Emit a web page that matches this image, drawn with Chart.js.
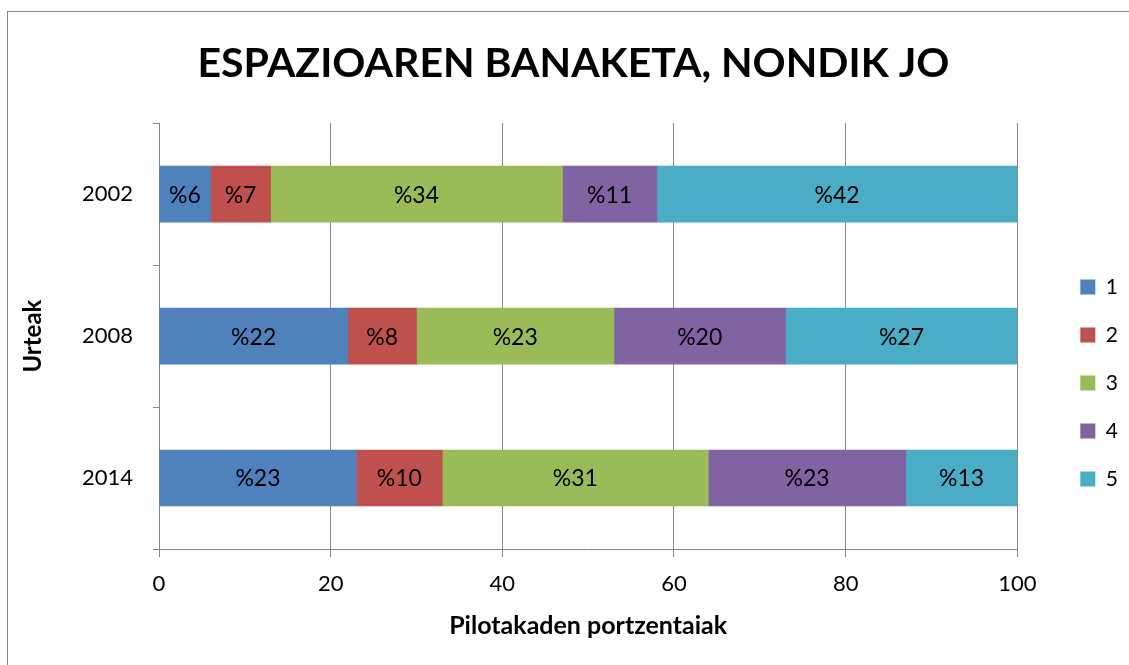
<!DOCTYPE html>
<html>
<head>
<meta charset="utf-8">
<script src="https://cdn.jsdelivr.net/npm/chart.js@4/dist/chart.umd.min.js"></script>
<style>
  html, body { margin: 0; padding: 0; background: #fff; overflow: hidden; }
  #wrap { width: 1129px; height: 665px; }
</style>
</head>
<body>
<div id="wrap"><canvas id="chart" width="1129" height="665"></canvas></div>
<script>
// Data
const years = ['2002', '2008', '2014'];
const seriesNames = ['1', '2', '3', '4', '5'];
const s1 = [6, 22, 23];
const s2 = [7, 8, 10];
const s3 = [34, 23, 31];
const s4 = [11, 20, 23];
const s5 = [42, 27, 13];
const xTicks = [0, 20, 40, 60, 80, 100];

const colors = ['#4F81BD', '#C0504D', '#9BBB59', '#8064A2', '#4BACC6'];
const gridGrey = '#868686';
const font = 'Lato';

// frame round the whole chart
const frame = {
    id: 'frame',
    beforeDraw(chart) {
        const ctx = chart.ctx;
        ctx.save();
        ctx.fillStyle = '#fff';
        ctx.fillRect(0, 0, chart.width, chart.height);
        ctx.strokeStyle = gridGrey;
        ctx.lineWidth = 1;
        ctx.strokeRect(7.5, 11.5, 1300, 800);
        ctx.restore();
    }
};

// "%n" written in the middle of each segment
const segmentLabels = {
    id: 'segmentLabels',
    afterDatasetsDraw(chart) {
        const ctx = chart.ctx;
        ctx.save();
        ctx.font = `23px ${font}`;
        ctx.fillStyle = '#000';
        ctx.textAlign = 'center';
        ctx.textBaseline = 'middle';
        chart.data.datasets.forEach((ds, i) => {
            chart.getDatasetMeta(i).data.forEach((bar, j) => {
                const p = bar.getCenterPoint();
                ctx.fillText('%' + ds.data[j], p.x, p.y + 1);
            });
        });
        ctx.restore();
    }
};

// legend further from the plot, title centred on the whole frame
const placeBoxes = {
    id: 'placeBoxes',
    afterLayout(chart) {
        const lg = chart.legend;
        if (lg) {
            const shift = chart.chartArea.right + 36 - lg.left;
            lg.left += shift;
            lg.right += shift;
            lg.top = chart.chartArea.top;
            lg.bottom = 643;
        }
        const tb = chart.titleBlock;
        if (tb) {
            tb.left = 0;
            tb.right = 1147;
        }
    }
};

const allSeries = [s1, s2, s3, s4, s5];

new Chart(document.getElementById('chart'), {
    type: 'bar',
    data: {
        labels: years,
        datasets: allSeries.map((vals, i) => ({
            label: seriesNames[i],
            data: vals,
            backgroundColor: colors[i],
            borderWidth: 0,
            barThickness: 56
        }))
    },
    options: {
        indexAxis: 'y',
        responsive: false,
        animation: false,
        devicePixelRatio: 1,
        layout: { padding: { left: 0, top: 0, right: 37, bottom: 0 } },
        plugins: {
            title: {
                display: true,
                text: 'ESPAZIOAREN BANAKETA, NONDIK JO',
                color: '#000',
                font: { family: font, size: 41, weight: 'bold', lineHeight: 1.2 },
                padding: { top: 39, bottom: 35 }
            },
            legend: {
                position: 'right',
                labels: {
                    color: '#000',
                    boxWidth: 15,
                    boxHeight: 15,
                    padding: 27,
                    font: { family: font, size: 21 }
                }
            },
            tooltip: { enabled: false }
        },
        scales: {
            x: {
                stacked: true,
                min: 0,
                max: 100,
                afterFit(scale) { scale.height = 116; },
                afterBuildTicks(scale) { scale.ticks = xTicks.map(v => ({ value: v })); },
                grid: { color: gridGrey, tickLength: 8, tickColor: gridGrey },
                border: { color: gridGrey },
                ticks: {
                    color: '#000',
                    padding: 14,
                    maxRotation: 0,
                    font: { family: font, size: 22 }
                },
                title: {
                    display: true,
                    text: 'Pilotakaden portzentaiak',
                    color: '#000',
                    font: { family: font, size: 25, weight: 'bold', lineHeight: 1.2 },
                    padding: { top: 0, bottom: 24 }
                }
            },
            y: {
                stacked: true,
                afterFit(scale) { scale.width = 159; },
                grid: {
                    offset: true,
                    drawOnChartArea: false,
                    tickLength: 6,
                    color: gridGrey
                },
                border: { color: gridGrey },
                ticks: {
                    color: '#000',
                    padding: 20,
                    font: { family: font, size: 22 }
                },
                title: {
                    display: true,
                    text: 'Urteak',
                    color: '#000',
                    font: { family: font, size: 24, weight: 'bold', lineHeight: 1.2 },
                    padding: { top: 19, bottom: 0 }
                }
            }
        }
    },
    plugins: [frame, segmentLabels, placeBoxes]
});
</script>
</body>
</html>
